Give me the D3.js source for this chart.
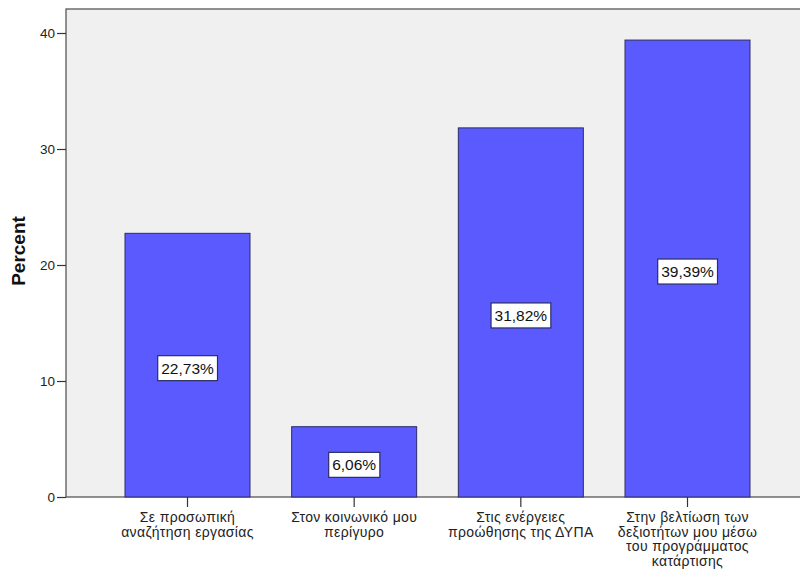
<!DOCTYPE html>
<html>
<head>
<meta charset="utf-8">
<script src="https://cdn.jsdelivr.net/npm/d3@7"></script>
<style>
  html, body { margin: 0; padding: 0; background: #ffffff; }
  svg { display: block; }
</style>
</head>
<body>
<svg id="chart" width="800" height="573"></svg>
<script>
// Answer categories (multi-line tick labels)
const categories = [
  ["Σε προσωπική", "αναζήτηση εργασίας"],
  ["Στον κοινωνικό μου", "περίγυρο"],
  ["Στις ενέργειες", "προώθησης της ΔΥΠΑ"],
  ["Στην βελτίωση των", "δεξιοτήτων μου μέσω", "του προγράμματος", "κατάρτισης"]
];
// Percent of respondents per category
const percents = [22.73, 6.06, 31.82, 39.39];
// Y-axis tick values
const yTicks = [0, 10, 20, 30, 40];
const yLabel = "Percent";

const FONT = "'Liberation Sans', Arial, sans-serif";
const svg = d3.select("#chart");
const plot = { left: 66, top: 9, right: 809, bottom: 497 };

const x = d3.scaleBand()
  .domain(d3.range(categories.length))
  .range([plot.left, plot.right])
  .paddingInner(0.25)
  .paddingOuter(0.354);

const y = d3.scaleLinear()
  .domain([0, 40])
  .range([plot.bottom, 33]);

// Plot background and frame
svg.append("rect")
  .attr("x", plot.left).attr("y", plot.top)
  .attr("width", plot.right - plot.left + 10)
  .attr("height", plot.bottom - plot.top)
  .attr("fill", "#f0f0f0")
  .attr("stroke", "#4a4a4a")
  .attr("stroke-width", 1.2);

// Bars
svg.append("g").selectAll("rect")
  .data(percents)
  .join("rect")
  .attr("x", (d, i) => x(i))
  .attr("y", d => y(d))
  .attr("width", x.bandwidth())
  .attr("height", d => y(0) - y(d))
  .attr("fill", "#5a5aff")
  .attr("stroke", "#2c2c66")
  .attr("stroke-width", 1);

// Y axis
const yAxis = svg.append("g")
  .attr("transform", `translate(${plot.left},0)`)
  .call(d3.axisLeft(y).tickValues(yTicks).tickSize(9).tickPadding(2).tickFormat(d3.format("d")));
yAxis.select(".domain").remove();
yAxis.selectAll(".tick line").attr("stroke", "#333").attr("stroke-width", 1.2);
yAxis.selectAll(".tick text")
  .attr("font-family", FONT)
  .attr("font-size", 13.5)
  .attr("fill", "#222");

// X axis
const xAxis = svg.append("g")
  .attr("transform", `translate(0,${plot.bottom})`)
  .call(d3.axisBottom(x).tickSize(10).tickFormat(""));
xAxis.select(".domain").remove();
xAxis.selectAll(".tick line").attr("stroke", "#333").attr("stroke-width", 1.2);

// Multi-line category labels
svg.append("g").selectAll("text")
  .data(categories)
  .join("text")
  .attr("x", (d, i) => x(i) + x.bandwidth() / 2)
  .attr("y", 522)
  .attr("text-anchor", "middle")
  .attr("font-family", FONT)
  .attr("font-size", 14)
  .attr("letter-spacing", 0.35)
  .attr("fill", "#222")
  .selectAll("tspan")
  .data(d => d)
  .join("tspan")
  .attr("x", function () { return this.parentNode.getAttribute("x"); })
  .attr("dy", (d, i) => i === 0 ? 0 : 14.7)
  .text(d => d);

// Y axis title
svg.append("text")
  .attr("transform", "translate(25,251) rotate(-90)")
  .attr("text-anchor", "middle")
  .attr("font-family", FONT)
  .attr("font-weight", "bold")
  .attr("font-size", 19)
  .attr("fill", "#111")
  .text(yLabel);

// Value labels in boxes at bar mid-height
const fmt = v => d3.format(".2f")(v).replace(".", ",") + "%";
const labels = svg.append("g").selectAll("g")
  .data(percents)
  .join("g")
  .attr("transform", (d, i) => `translate(${x(i) + x.bandwidth() / 2},${(y(d) + y(0)) / 2 + 3})`);

labels.append("text")
  .attr("text-anchor", "middle")
  .attr("dy", "0.36em")
  .attr("font-family", FONT)
  .attr("font-size", 15.5)
  .attr("fill", "#111")
  .text(d => fmt(d));

labels.each(function () {
  const g = d3.select(this);
  const bb = g.select("text").node().getBBox();
  g.insert("rect", "text")
    .attr("x", bb.x - 3.5)
    .attr("y", -12.5)
    .attr("width", bb.width + 7)
    .attr("height", 25)
    .attr("fill", "#ffffff")
    .attr("stroke", "#2c2c66")
    .attr("stroke-width", 1.2);
});
</script>
</body>
</html>
